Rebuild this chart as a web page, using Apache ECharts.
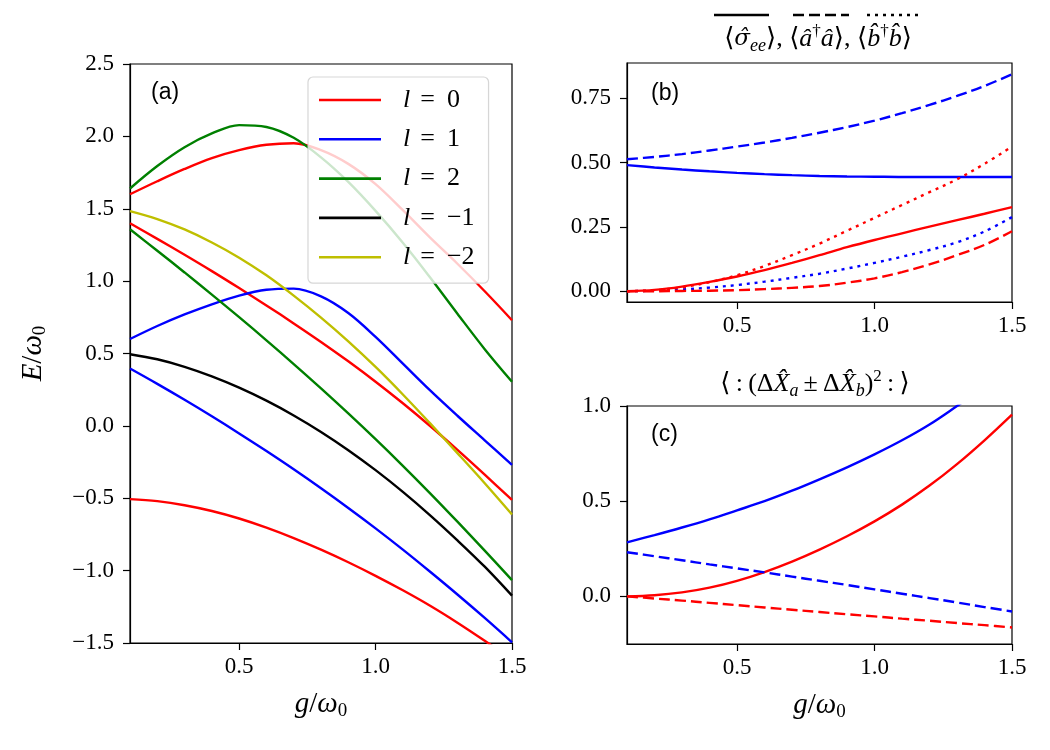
<!DOCTYPE html>
<html>
<head>
<meta charset="utf-8">
<script src="https://cdn.jsdelivr.net/npm/echarts@6/dist/echarts.min.js"></script>
<style>
  html, body { margin: 0; padding: 0; background: #fff; }
  #main { width: 1050px; height: 750px; }
</style>
</head>
<body>
<div id="main"></div>
<script>
// ---------- data
var g = [0.1, 0.2, 0.3, 0.4, 0.5, 0.6, 0.7, 0.8, 0.9, 1.0, 1.1, 1.2, 1.3, 1.4, 1.5];

// (a) energy levels E/w0
var a_l0_top = [1.60, 1.69, 1.775, 1.85, 1.905, 1.942, 1.953, 1.905, 1.81, 1.67, 1.49, 1.30, 1.12, 0.93, 0.73];
var a_l0_mid = [1.40, 1.292, 1.182, 1.069, 0.952, 0.832, 0.708, 0.58, 0.446, 0.305, 0.156, -0.001, -0.166, -0.337, -0.512];
var a_l0_low = [-0.506, -0.52, -0.548, -0.588, -0.64, -0.703, -0.775, -0.855, -0.942, -1.036, -1.136, -1.243, -1.36, -1.485, -1.615];
var a_l1_mid = [0.60, 0.69, 0.77, 0.84, 0.90, 0.94, 0.948, 0.895, 0.78, 0.615, 0.43, 0.245, 0.07, -0.10, -0.27];
var a_l1_low = [0.396, 0.29, 0.18, 0.066, -0.052, -0.174, -0.30, -0.431, -0.567, -0.708, -0.855, -1.008, -1.165, -1.327, -1.495];
var a_l2_top = [1.64, 1.795, 1.925, 2.02, 2.078, 2.065, 1.99, 1.855, 1.685, 1.485, 1.265, 1.025, 0.775, 0.53, 0.305];
var a_l2_mid = [1.358, 1.21, 1.06, 0.907, 0.751, 0.591, 0.427, 0.259, 0.086, -0.092, -0.276, -0.466, -0.662, -0.862, -1.066];
var a_lm1 = [0.495, 0.46, 0.408, 0.342, 0.264, 0.174, 0.072, -0.042, -0.168, -0.306, -0.456, -0.618, -0.791, -0.973, -1.173];
var a_lm2 = [1.484, 1.429, 1.357, 1.267, 1.162, 1.04, 0.90, 0.748, 0.584, 0.407, 0.217, 0.017, -0.188, -0.396, -0.612];

// (b) populations
var b_sig_blue = [0.490, 0.481, 0.473, 0.466, 0.460, 0.455, 0.451, 0.448, 0.446, 0.445, 0.444, 0.444, 0.444, 0.444, 0.444];
var b_ada_blue = [0.513, 0.522, 0.533, 0.547, 0.562, 0.578, 0.596, 0.616, 0.638, 0.663, 0.692, 0.724, 0.759, 0.798, 0.843];
var b_bdb_blue = [0, 0.002, 0.007, 0.014, 0.024, 0.037, 0.052, 0.068, 0.088, 0.11, 0.134, 0.16, 0.19, 0.232, 0.288];
var b_sig_red = [0, 0.005, 0.018, 0.036, 0.057, 0.082, 0.11, 0.14, 0.171, 0.199, 0.225, 0.251, 0.276, 0.301, 0.327];
var b_ada_red = [0, 0, 0.001, 0.002, 0.004, 0.008, 0.013, 0.02, 0.033, 0.05, 0.074, 0.104, 0.14, 0.18, 0.233];
var b_bdb_red = [0, 0.004, 0.015, 0.035, 0.062, 0.098, 0.14, 0.185, 0.235, 0.285, 0.335, 0.385, 0.435, 0.495, 0.562];

// (c) normally ordered variances
var c_blue = [0.284, 0.322, 0.362, 0.405, 0.452, 0.50, 0.555, 0.615, 0.678, 0.746, 0.82, 0.903, 1.0, 1.10, 1.22];
var c_red = [0, 0.006, 0.021, 0.046, 0.082, 0.128, 0.183, 0.246, 0.316, 0.394, 0.482, 0.582, 0.695, 0.82, 0.955];
var c_blue_dash = [0.232, 0.211, 0.19, 0.168, 0.147, 0.126, 0.104, 0.082, 0.06, 0.037, 0.014, -0.009, -0.032, -0.056, -0.079];
var c_red_dash = [0, -0.011, -0.022, -0.034, -0.046, -0.058, -0.07, -0.082, -0.094, -0.105, -0.117, -0.128, -0.14, -0.151, -0.163];

// tick labels
var xTicks = [0.5, 1.0, 1.5];
var bTicks = [0, 0.25, 0.5, 0.75];
var cTicks = [0, 0.5, 1.0];
var legendNames = ["l0", "l1", "l2", "lm1", "lm2"];
var legendText = { l0: "0", l1: "1", l2: "2", lm1: "\u22121", lm2: "\u22122" };

// ---------- style helpers
var SERIF = "'Liberation Serif', 'DejaVu Serif', 'DejaVu Sans', serif";
var DJSERIF = "'DejaVu Serif', 'Liberation Serif', serif";
var SANS = "'Liberation Sans', Arial, sans-serif";
var RED = "#ff0000", BLUE = "#0000ff", GREEN = "#008000", BLACK = "#000000", YEL = "#bfbf00";
var DASH = [11, 5], DOT = [3, 5];

const minus = (s) => s.replace("-", "\u2212");

function pts(arr) {
  return g.map(function (x, i) { return [x, arr[i]]; });
}

function line(name, arr, color, idx, type) {
  return {
    name: name,
    type: "line",
    xAxisIndex: idx,
    yAxisIndex: idx,
    data: pts(arr),
    symbol: "none",
    smooth: 0.35,
    silent: true,
    itemStyle: { color: color },
    lineStyle: { color: color, width: 2.4, type: type || "solid", cap: "butt" },
  };
}

var nameRich = {
  i: { fontFamily: SERIF, fontStyle: "italic", fontSize: 29, lineHeight: 34, color: "#000" },
  t: { fontFamily: SERIF, fontSize: 29, lineHeight: 34, color: "#000" },
  s: { fontFamily: SERIF, fontSize: 19, lineHeight: 16, verticalAlign: "bottom", color: "#000" },
};

function xAxis(idx, withName) {
  var ax = {
    type: "value",
    gridIndex: idx,
    min: 0.1,
    max: 1.5,
    axisLine: { show: true, onZero: false, lineStyle: { color: "#000", width: 1.2 } },
    splitLine: { show: false },
    axisTick: { show: true, inside: false, length: 7, customValues: xTicks, lineStyle: { color: "#000", width: 1.2 } },
    axisLabel: {
      customValues: xTicks,
      margin: 12,
      fontFamily: SERIF,
      fontSize: 23,
      color: "#000",
      formatter: function (v) { return v.toFixed(1); },
    },
  };
  if (withName) {
    ax.name = "{i|g}{t|/}{i|\u03c9}{s|0}";
    ax.nameLocation = "middle";
    ax.nameGap = 44;
    ax.nameTextStyle = { rich: nameRich };
  }
  return ax;
}

function yAxis(idx, min, max, ticks, digits) {
  var ax = {
    type: "value",
    gridIndex: idx,
    min: min,
    max: max,
    axisLine: { show: true, onZero: false, lineStyle: { color: "#000", width: 1.2 } },
    splitLine: { show: false },
    axisTick: { show: true, inside: false, length: 7, lineStyle: { color: "#000", width: 1.2 } },
    axisLabel: {
      margin: 16,
      fontFamily: SERIF,
      fontSize: 23,
      color: "#000",
      formatter: function (v) { return minus(v.toFixed(digits)); },
    },
  };
  if (ticks) {
    ax.axisTick.customValues = ticks;
    ax.axisLabel.customValues = ticks;
  } else {
    ax.interval = 0.5;
  }
  return ax;
}

var gridBox = { show: true, borderColor: "#000", borderWidth: 1.2, backgroundColor: "transparent" };

var yA = yAxis(0, -1.5, 2.5, null, 1);
yA.name = "{i|E}{t|/}{i|\u03c9}{s|0}";
yA.nameLocation = "middle";
yA.nameRotate = 90;
yA.nameGap = 80;
yA.nameTextStyle = { rich: nameRich };

var txtRich = {
  t: { fontFamily: SERIF, fontSize: 26, lineHeight: 32, color: "#000" },
  i: { fontFamily: SERIF, fontStyle: "italic", fontSize: 26, lineHeight: 32, color: "#000" },
  ig: { fontFamily: DJSERIF, fontStyle: "italic", fontSize: 23, lineHeight: 32, color: "#000" },
  sb: { fontFamily: SERIF, fontStyle: "italic", fontSize: 18, lineHeight: 16, verticalAlign: "bottom", color: "#000" },
  sp: { fontFamily: SERIF, fontSize: 17, lineHeight: 16, verticalAlign: "top", color: "#000" },
};

var headerB =
  "{t|\u27e8}{ig|\u03c3\u0302}{sb|ee}{t|\u27e9, \u27e8}{i|\u00e2}{sp|\u2020}{i|\u00e2}{t|\u27e9, \u27e8}{i|b\u0302}{sp|\u2020}{i|b\u0302}{t|\u27e9}";
var headerC =
  "{t|\u27e8\u2009:\u2009(\u0394}{i|X\u0302}{sb|a}{t|\u2009\u00b1\u2009\u0394}{i|X\u0302}{sb|b}{t|)}{sp|2}{t|\u2009:\u2009\u27e9}";

var panelFont = { fontFamily: SANS, fontSize: 23, fontWeight: "normal", color: "#000" };

var option = {
  animation: false,
  backgroundColor: "#fff",
  title: [
    { text: "(a)", left: 146, top: 76, textStyle: panelFont },
    { text: "(b)", left: 646, top: 77, textStyle: panelFont },
    { text: "(c)", left: 646, top: 418, textStyle: panelFont },
  ],
  legend: {
    data: legendNames,
    orient: "vertical",
    left: 308,
    top: 77,
    icon: "rect",
    itemWidth: 62,
    itemHeight: 2.6,
    itemGap: 13.3,
    selectedMode: false,
    padding: [10, 14, 13, 11],
    backgroundColor: "rgba(255,255,255,0.8)",
    borderColor: "rgba(204,204,204,0.8)",
    borderWidth: 1.2,
    borderRadius: 5,
    formatter: function (n) { return "{i|l}{eq|=}{t|" + legendText[n] + "}"; },
    textStyle: {
      rich: {
        i: { fontFamily: SERIF, fontStyle: "italic", fontSize: 26, lineHeight: 28, padding: [0, 0, 0, 17], color: "#000" },
        eq: { fontFamily: SERIF, fontSize: 26, lineHeight: 28, padding: [0, 12, 0, 10], color: "#000" },
        t: { fontFamily: SERIF, fontSize: 26, lineHeight: 28, color: "#000" },
      },
    },
  },
  grid: [
    Object.assign({ left: 130, top: 64, width: 382, height: 579 }, gridBox),
    Object.assign({ left: 627, top: 63, width: 385, height: 239 }, gridBox),
    Object.assign({ left: 627, top: 406, width: 385, height: 238 }, gridBox),
  ],
  xAxis: [xAxis(0, true), xAxis(1, false), xAxis(2, true)],
  yAxis: [yA, yAxis(1, -0.042, 0.887, bTicks, 2), yAxis(2, -0.25, 1.0, cTicks, 1)],
  graphic: [
    { type: "line", shape: { x1: 714, y1: 15, x2: 769, y2: 15 }, style: { stroke: "#000", lineWidth: 2.4 } },
    { type: "line", shape: { x1: 793, y1: 15, x2: 849, y2: 15 }, style: { stroke: "#000", lineWidth: 2.4, lineDash: DASH } },
    { type: "line", shape: { x1: 867, y1: 15, x2: 923, y2: 15 }, style: { stroke: "#000", lineWidth: 2.4, lineDash: DOT } },
    { type: "text", x: 818, y: 39, style: { text: headerB, align: "center", verticalAlign: "middle", rich: txtRich } },
    { type: "text", x: 815, y: 384, style: { text: headerC, align: "center", verticalAlign: "middle", rich: txtRich } },
  ],
  series: [
    line("l0", a_l0_top, RED, 0),
    line("l0", a_l0_mid, RED, 0),
    line("l0", a_l0_low, RED, 0),
    line("l1", a_l1_mid, BLUE, 0),
    line("l1", a_l1_low, BLUE, 0),
    line("l2", a_l2_top, GREEN, 0),
    line("l2", a_l2_mid, GREEN, 0),
    line("lm1", a_lm1, BLACK, 0),
    line("lm2", a_lm2, YEL, 0),

    line("b1", b_sig_blue, BLUE, 1),
    line("b2", b_ada_blue, BLUE, 1, DASH),
    line("b3", b_bdb_blue, BLUE, 1, DOT),
    line("b4", b_sig_red, RED, 1),
    line("b5", b_ada_red, RED, 1, DASH),
    line("b6", b_bdb_red, RED, 1, DOT),

    line("c1", c_blue, BLUE, 2),
    line("c2", c_red, RED, 2),
    line("c3", c_blue_dash, BLUE, 2, DASH),
    line("c4", c_red_dash, RED, 2, DASH),
  ],
};

var myChart = echarts.init(document.getElementById("main"));
myChart.setOption(option);
</script>
</body>
</html>
